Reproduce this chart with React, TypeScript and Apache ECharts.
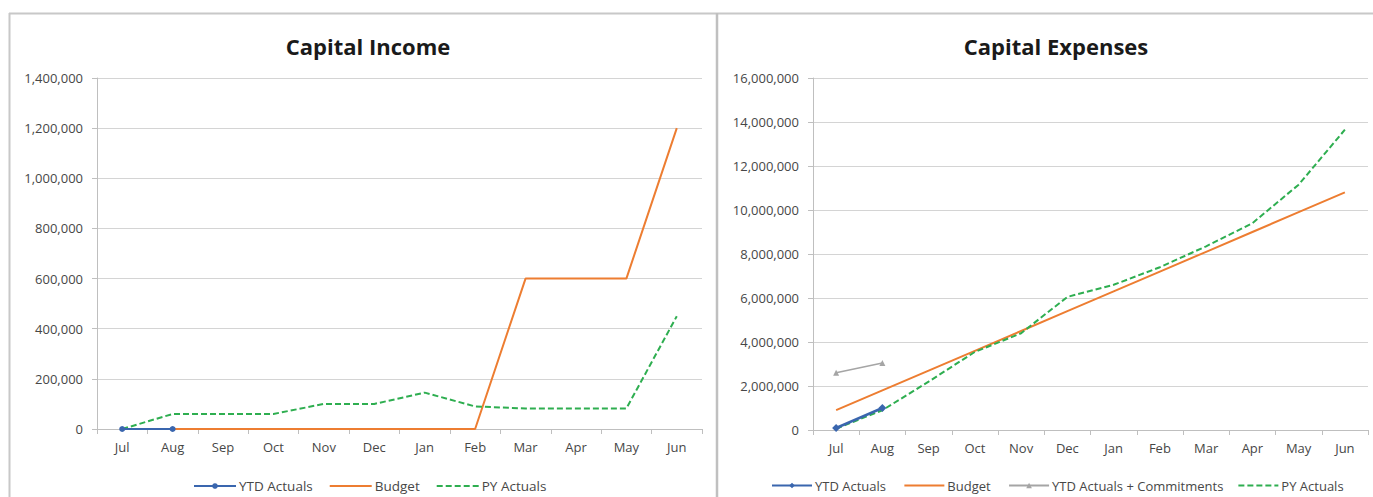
import React, { useEffect, useRef } from "react";
import * as echarts from "echarts";

// Fiscal months, July to June
const months = ["Jul", "Aug", "Sep", "Oct", "Nov", "Dec", "Jan", "Feb", "Mar", "Apr", "May", "Jun"];

// Capital Income
const incomeYtdActuals = [0, 0];
const incomeBudget = [0, 0, 0, 0, 0, 0, 0, 0, 600000, 600000, 600000, 1200000];
const incomePyActuals = [0, 60000, 60000, 60000, 100000, 100000, 145000, 90000, 82000, 82000, 82000, 450000];

// Capital Expenses
const expYtdActuals = [90000, 1000000];
const expBudget = [900000, 1800000, 2700000, 3600000, 4500000, 5400000, 6300000, 7200000, 8100000, 9000000, 9900000, 10800000];
const expYtdCommitments = [2600000, 3050000];
const expPyActuals = [60000, 900000, 2200000, 3550000, 4400000, 6050000, 6600000, 7400000, 8350000, 9400000, 11150000, 13650000];

const FONT = "'Open Sans', 'Noto Sans', sans-serif";
const BLUE = "#3A66AE";
const ORANGE = "#ED7D31";
const GREEN = "#2EAE50";
const GRAY = "#A5A5A5";
const TEXT = "#474747";

const fmt = (v: number) => v.toLocaleString("en-US");

function xAxisFor(gridIndex: number) {
  return {
    type: "category",
    gridIndex,
    data: months,
    boundaryGap: true,
    axisLine: { lineStyle: { color: "#BFBFBF", width: 1 } },
    axisTick: { show: true, length: 5, lineStyle: { color: "#BFBFBF" } },
    axisLabel: { color: TEXT, fontSize: 13, fontFamily: FONT, margin: 11 },
  };
}

function yAxisFor(gridIndex: number, max: number, interval: number) {
  return {
    type: "value",
    gridIndex,
    min: 0,
    max,
    interval,
    axisLine: { show: true, lineStyle: { color: "#BFBFBF", width: 1 } },
    axisTick: { show: true, length: 5, lineStyle: { color: "#BFBFBF" } },
    splitLine: { lineStyle: { color: "#D4D4D4", width: 1 } },
    axisLabel: { color: TEXT, fontSize: 13, fontFamily: FONT, margin: 14, formatter: fmt },
  };
}

// legend entries for plain lines carry no marker
const noMarker = { itemStyle: { opacity: 0 } };

const legendText = { color: TEXT, fontSize: 13.5, fontFamily: FONT, padding: [0, 0, 0, -2] };

export default function App() {
  const ref = useRef<HTMLDivElement>(null);

  useEffect(() => {
    if (!ref.current) return;
    const chart = echarts.init(ref.current, undefined, { renderer: "svg" });

    const dashed = { width: 2, type: [6, 3] as number[], color: GREEN };

    chart.setOption({
      animation: false,
      backgroundColor: "#FFFFFF",
      title: [
        {
          text: "Capital Income",
          left: 363,
          top: 30,
          textAlign: "center",
          textStyle: { fontFamily: FONT, fontSize: 22, fontWeight: "bold", color: "#1A1A1A" },
        },
        {
          text: "Capital Expenses",
          left: 1051,
          top: 30,
          textAlign: "center",
          textStyle: { fontFamily: FONT, fontSize: 22, fontWeight: "bold", color: "#1A1A1A" },
        },
      ],
      legend: [
        {
          data: [
            { name: "YTD Actuals" },
            { name: "Budget", ...noMarker },
            { name: "PY Actuals", ...noMarker },
          ],
          left: 188,
          top: 474,
          itemWidth: 42,
          itemHeight: 7,
          itemGap: 16,
          textStyle: legendText,
          selectedMode: false,
        },
        {
          data: [
            { name: "YTD Actuals " },
            { name: "Budget ", ...noMarker },
            { name: "YTD Actuals + Commitments" },
            { name: "PY Actuals ", ...noMarker },
          ],
          left: 766,
          top: 474,
          itemWidth: 40,
          itemHeight: 7,
          itemGap: 14,
          textStyle: { ...legendText, fontSize: 13 },
          selectedMode: false,
        },
      ],
      grid: [
        { left: 97, right: 671, top: 78, bottom: 68, containLabel: false },
        { left: 813, right: 5, top: 78, bottom: 67, containLabel: false },
      ],
      xAxis: [xAxisFor(0), xAxisFor(1)],
      yAxis: [yAxisFor(0, 1400000, 200000), yAxisFor(1, 16000000, 2000000)],
      series: [
        {
          name: "YTD Actuals",
          type: "line",
          xAxisIndex: 0,
          yAxisIndex: 0,
          data: incomeYtdActuals,
          symbol: "circle",
          symbolSize: 6,
          itemStyle: { color: BLUE },
          lineStyle: { color: BLUE, width: 2 },
          z: 5,
        },
        {
          name: "Budget",
          type: "line",
          xAxisIndex: 0,
          yAxisIndex: 0,
          data: incomeBudget,
          symbol: "none",
          itemStyle: { color: ORANGE },
          lineStyle: { color: ORANGE, width: 2 },
          z: 3,
        },
        {
          name: "PY Actuals",
          type: "line",
          xAxisIndex: 0,
          yAxisIndex: 0,
          data: incomePyActuals,
          symbol: "none",
          itemStyle: { color: GREEN },
          lineStyle: dashed,
          z: 4,
        },
        {
          name: "YTD Actuals ",
          type: "line",
          xAxisIndex: 1,
          yAxisIndex: 1,
          data: expYtdActuals,
          symbol: "diamond",
          symbolSize: 8,
          itemStyle: { color: BLUE },
          lineStyle: { color: BLUE, width: 2.5 },
          z: 6,
        },
        {
          name: "Budget ",
          type: "line",
          xAxisIndex: 1,
          yAxisIndex: 1,
          data: expBudget,
          symbol: "none",
          itemStyle: { color: ORANGE },
          lineStyle: { color: ORANGE, width: 2 },
          z: 3,
        },
        {
          name: "YTD Actuals + Commitments",
          type: "line",
          xAxisIndex: 1,
          yAxisIndex: 1,
          data: expYtdCommitments,
          symbol: "triangle",
          symbolSize: 6,
          itemStyle: { color: GRAY },
          lineStyle: { color: GRAY, width: 1.5 },
          z: 4,
        },
        {
          name: "PY Actuals ",
          type: "line",
          xAxisIndex: 1,
          yAxisIndex: 1,
          data: expPyActuals,
          symbol: "none",
          itemStyle: { color: GREEN },
          lineStyle: dashed,
          z: 5,
        },
      ],
      graphic: [
        // panel frames
        { type: "line", shape: { x1: 9, y1: 13.5, x2: 1373, y2: 13.5 }, style: { stroke: "#C8C8C8", lineWidth: 2 }, silent: true },
        { type: "line", shape: { x1: 9.5, y1: 13, x2: 9.5, y2: 497 }, style: { stroke: "#C8C8C8", lineWidth: 2 }, silent: true },
        { type: "line", shape: { x1: 717, y1: 13, x2: 717, y2: 497 }, style: { stroke: "#C0C0C0", lineWidth: 2.5 }, silent: true },
      ],
    });

    return () => chart.dispose();
  }, []);

  return (
    <div
      ref={ref}
      style={{ position: "fixed", left: 0, top: 0, width: 1373, height: 497, background: "#fff" }}
    />
  );
}
